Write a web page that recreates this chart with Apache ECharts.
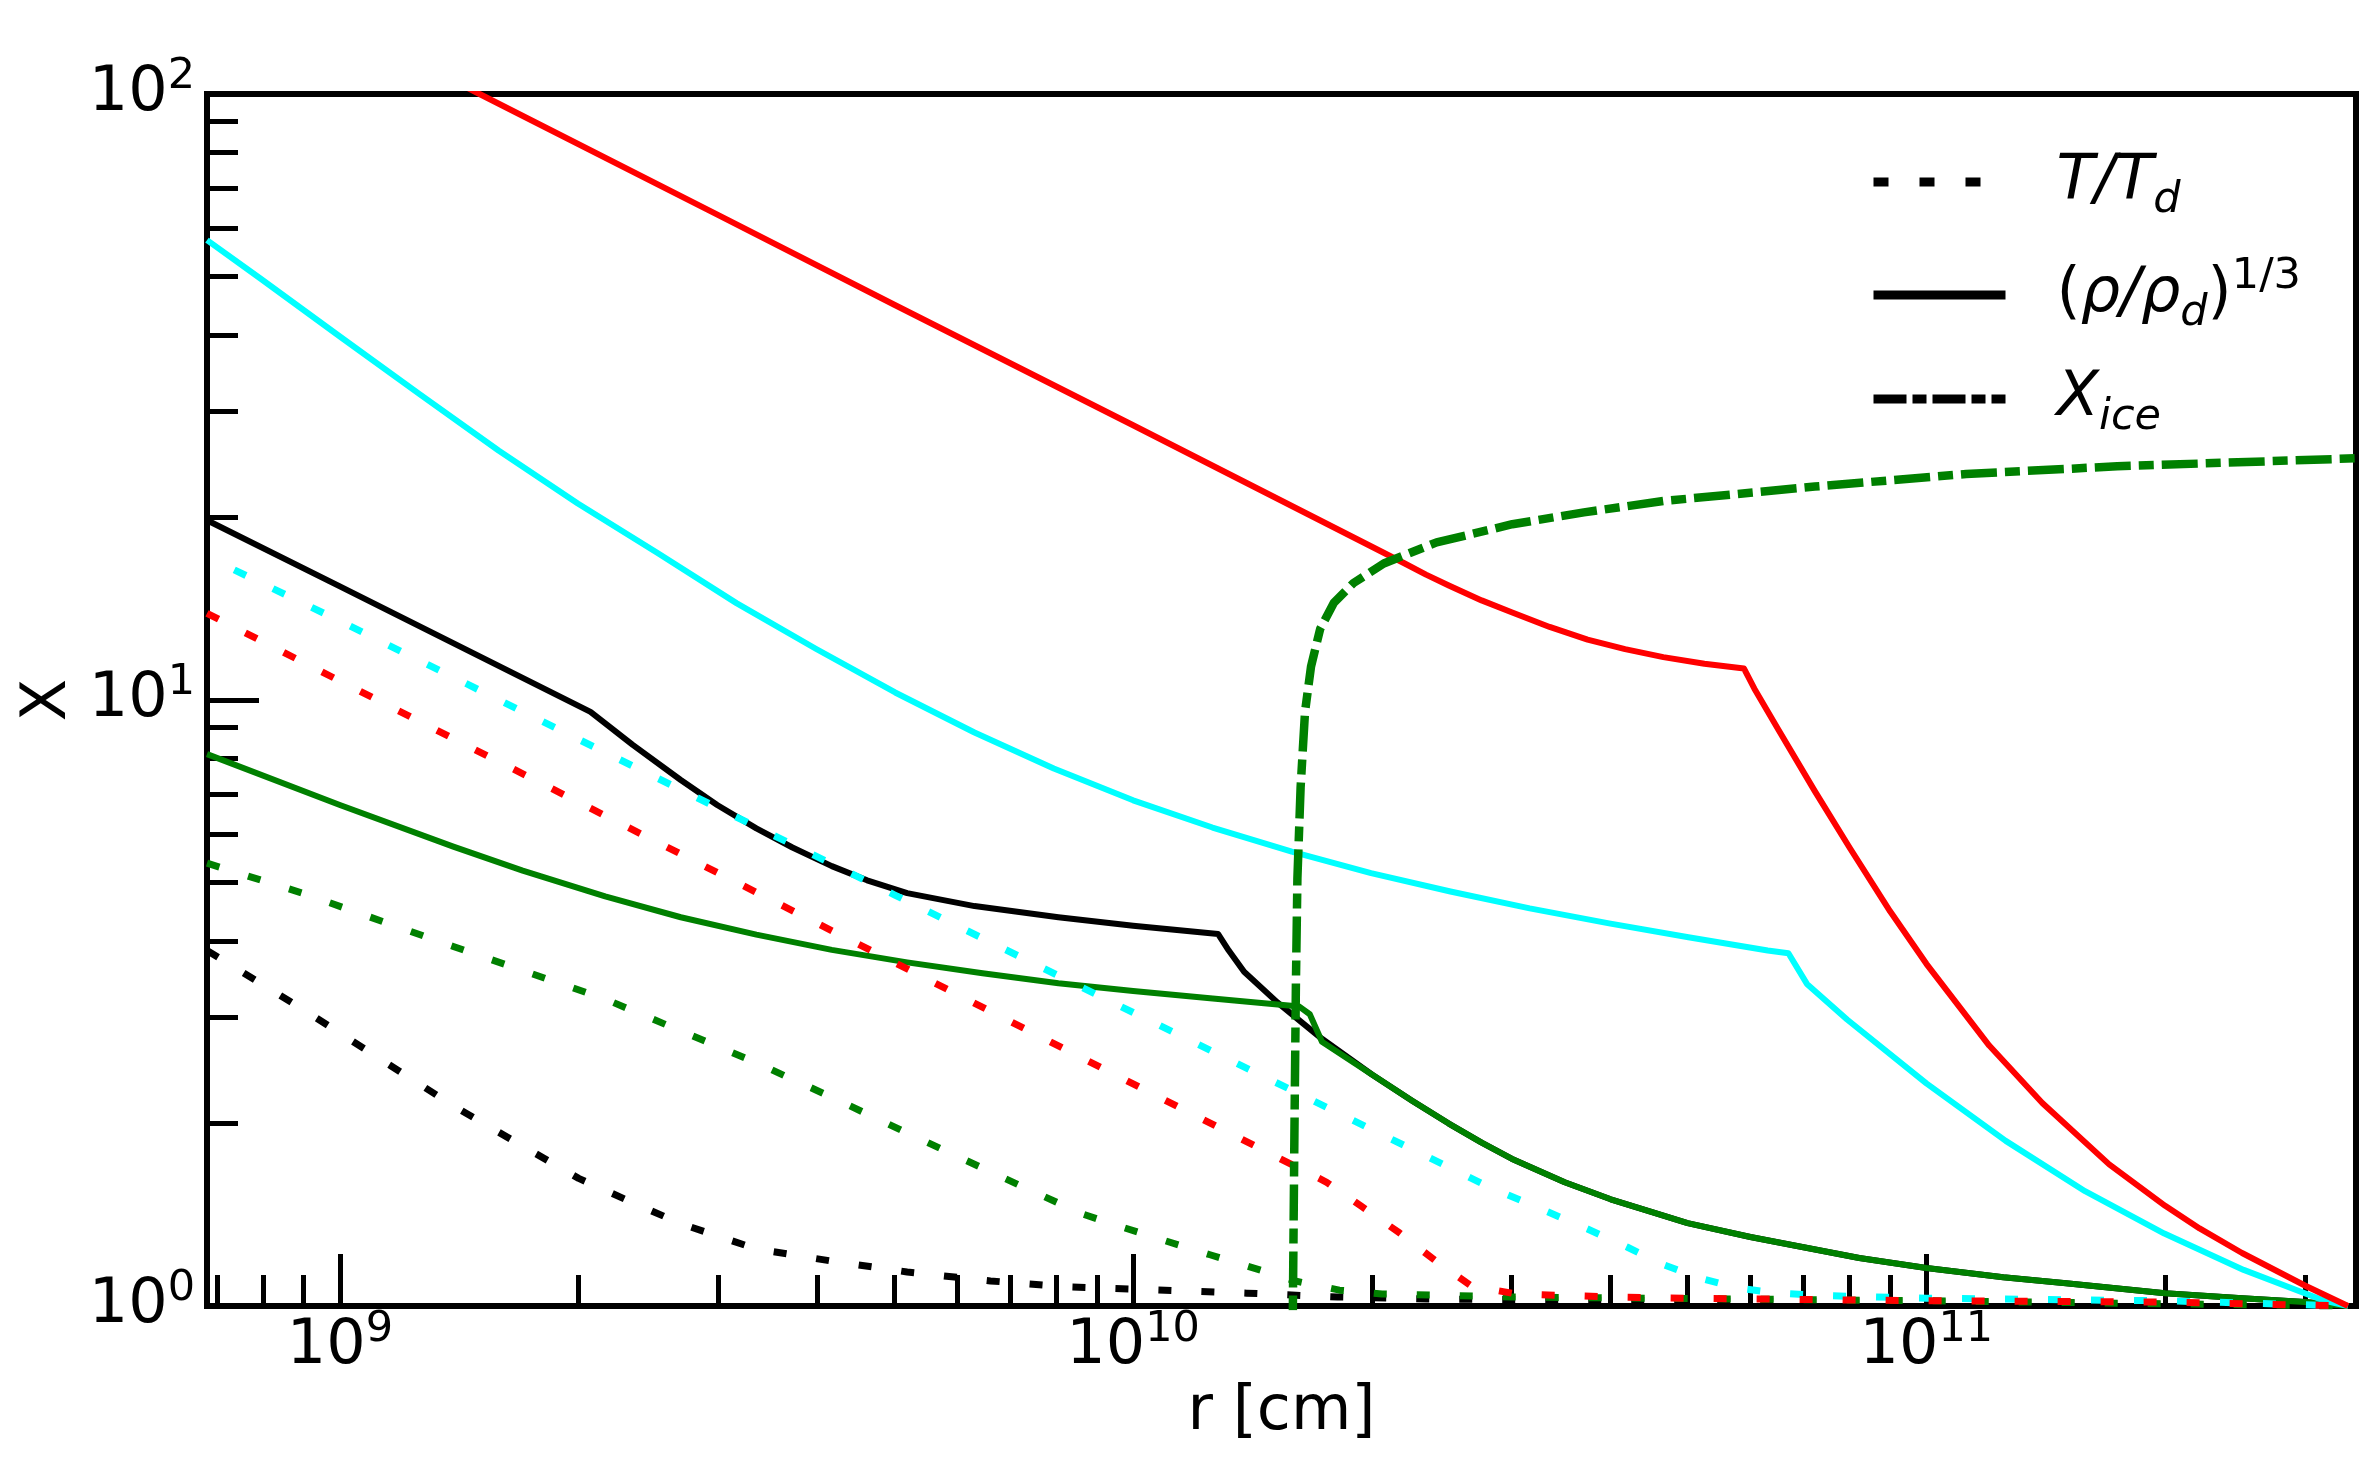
<!DOCTYPE html>
<html>
<head>
<meta charset="utf-8">
<title>X vs r</title>
<script src="https://cdn.jsdelivr.net/npm/echarts@6.0.0/dist/echarts.min.js"></script>
<style>
  html, body { margin: 0; padding: 0; background: #fff; }
  #chart { width: 2372px; height: 1463px; }
</style>
</head>
<body>
<div id="chart"></div>
<script>
/* profiles: [r in cm, X] */
var redSolid = [[6.8e8,169],[1.5e9,100],[3e9,63.1],[5e9,44.9],[1e10,28.4],[2e10,17.9],[2.2e10,16.8],[2.34e10,16.1],[2.5e10,15.45],[2.75e10,14.6],[3e10,13.96],[3.35e10,13.2],[3.74e10,12.58],[4.17e10,12.13],[4.66e10,11.77],[5.25e10,11.48],[5.89e10,11.27],[6.07e10,10.44],[6.5e10,8.96],[7.23e10,7.08],[8e10,5.71],[9e10,4.48],[1e11,3.67],[1.2e11,2.69],[1.4e11,2.163],[1.7e11,1.713],[2e11,1.463],[2.21e11,1.343],[2.5e11,1.223],[3e11,1.081],[3.4e11,1.0]];
var redDotted = [[6.8e8,13.9],[1e9,10.75],[2e9,6.78],[5e9,3.69],[1e10,2.325],[1.754e10,1.6],[1.945e10,1.457],[2.167e10,1.32],[2.4e10,1.19],[2.67e10,1.079],[3.04e10,1.047],[4e10,1.035],[5e10,1.03],[1e11,1.02],[2e11,1.015],[3.4e11,1.0]];

var cyanSolid = [[6.8e8,57.4],[7.94e8,49.6],[1e9,39.8],[1.259e9,32.0],[1.585e9,25.8],[1.995e9,21.1],[2.512e9,17.5],[3.162e9,14.45],[3.981e9,12.15],[5.012e9,10.29],[6.31e9,8.84],[7.943e9,7.71],[1e10,6.83],[1.259e10,6.16],[1.585e10,5.62],[1.995e10,5.18],[2.512e10,4.83],[3.162e10,4.53],[3.981e10,4.28],[5.012e10,4.06],[6.31e10,3.86],[6.7e10,3.82],[7.07e10,3.4],[7.943e10,2.97],[1e11,2.33],[1.259e11,1.873],[1.585e11,1.547],[1.995e11,1.317],[2.512e11,1.147],[3.162e11,1.022],[3.4e11,1.0]];
var cyanDotted = [[7.36e8,16.4],[1e9,13.5],[2e9,8.61],[5e9,4.77],[1e10,3.05],[2e10,1.955],[2.81e10,1.572],[3.18e10,1.468],[3.74e10,1.34],[4.2e10,1.25],[4.66e10,1.17],[5.2e10,1.11],[5.79e10,1.07],[6.5e10,1.05],[7.5e10,1.04],[1e11,1.03],[2e11,1.02],[3.4e11,1.0]];

// black and green solid run together past ~1.75e10
var sharedTail = [[2e10,2.41],[2.25e10,2.18],[2.5e10,2.0],[2.75e10,1.86],[3e10,1.75],[3.5e10,1.6],[4e10,1.5],[4.5e10,1.43],[5e10,1.37],[6e10,1.3],[7e10,1.25],[8.23e10,1.2],[1e11,1.155],[1.25e11,1.115],[1.5e11,1.09],[2e11,1.05],[2.5e11,1.03],[3e11,1.015],[3.4e11,1.0]];
var blackSolid = [[6.8e8,19.8],[1e9,15.4],[2.07e9,9.56],[2.34e9,8.43],[2.69e9,7.38],[2.99e9,6.71],[3.35e9,6.14],[3.72e9,5.71],[4.17e9,5.32],[4.62e9,5.04],[5.19e9,4.8],[6.31e9,4.57],[8.05e9,4.38],[1e10,4.24],[1.28e10,4.11],[1.32e10,3.86],[1.38e10,3.56],[1.52e10,3.17],[1.63e10,2.94],[1.73e10,2.76]];
var blackDotted = [[6.8e8,3.86],[8.97e8,3.09],[1.39e9,2.14],[1.585e9,1.936],[2e9,1.624],[2.29e9,1.5],[2.69e9,1.367],[3.35e9,1.242],[4.17e9,1.186],[5.19e9,1.138],[6.61e9,1.1],[8.3e9,1.075],[1.07e10,1.063],[1.39e10,1.05],[1.81e10,1.035],[2.35e10,1.027],[5e10,1.02],[1e11,1.015],[3.4e11,1.0]];

var greenSolid = [[6.8e8,8.14],[1e9,6.71],[1.39e9,5.73],[1.7e9,5.23],[2.16e9,4.74],[2.69e9,4.38],[3.35e9,4.1],[4.17e9,3.87],[5.19e9,3.69],[6.46e9,3.54],[8.05e9,3.41],[1e10,3.31],[1.25e10,3.22],[1.62e10,3.12],[1.67e10,3.03],[1.73e10,2.73]];
var greenDotted = [[6.8e8,5.38],[8.97e8,4.8],[1.39e9,3.92],[2.16e9,3.21],[3.35e9,2.52],[4.17e9,2.21],[5.19e9,1.93],[6.61e9,1.665],[8.61e9,1.42],[9.76e9,1.345],[1.1e10,1.28],[1.25e10,1.215],[1.42e10,1.155],[1.6e10,1.1],[1.82e10,1.062],[2.06e10,1.047],[3e10,1.035],[1e11,1.02],[3.4e11,1.0]];
var xIce = [[1.588e10,0.5],[1.59e10,1.0],[1.597e10,1.91],[1.604e10,3.4],[1.611e10,5.08],[1.626e10,7.17],[1.647e10,9.56],[1.676e10,11.36],[1.721e10,13.1],[1.791e10,14.47],[1.896e10,15.6],[2.07e10,16.8],[2.413e10,18.2],[3.006e10,19.5],[3.7e10,20.4],[4.664e10,21.3],[7.233e10,22.5],[1.122e11,23.6],[1.74e11,24.3],[3.48e11,25.05]];

/* axes */
var xRange = [6.8e8, 3.48e11];
var yRange = [1, 100];
var xMajorTicks = [1e9, 1e10, 1e11];
var xMinorTicks = [7e8, 8e8, 9e8, 2e9, 3e9, 4e9, 5e9, 6e9, 7e9, 8e9, 9e9, 2e10, 3e10, 4e10, 5e10, 6e10, 7e10, 8e10, 9e10, 2e11, 3e11];
var yMajorTicks = [1, 10, 100];
var yMinorTicks = [2, 3, 4, 5, 6, 7, 8, 9, 20, 30, 40, 50, 60, 70, 80, 90];

var FONT = 'DejaVu Sans';
var legendNames = ['T/Td', 'rho/rhod', 'Xice'];
var legendText = {
    'T/Td': '{i|T/T}{sub|d}',
    'rho/rhod': '{n|(}{i|ρ/ρ}{sub|d}{n|)}{sup|1/3}',
    'Xice': '{i|X}{sub|ice}'
};

var DOTTED = [13, 30];
var DASHDOT = [36, 8, 15, 8];
// the legend keys are drawn a bit heavier, so their dashes run a bit longer
var DOTTED_KEY = [15, 31];
var DASHDOT_KEY = [33, 6, 14, 6];

function expLabel(v) {
    var e = Math.round(Math.log10(v));
    return '{b|10}{s|' + e + '}';
}
var expRich = {
    b: { fontFamily: FONT, fontSize: 62, lineHeight: 78, color: '#000' },
    s: { fontFamily: FONT, fontSize: 43, lineHeight: 43, verticalAlign: 'top', color: '#000' }
};

function curve(data, color, kind) {
    var style = { color: color, width: 6, type: 'solid', cap: 'butt', join: 'round' };
    if (kind === 'dotted') { style.width = 7; style.type = DOTTED; }
    if (kind === 'dashdot') { style.width = 8.5; style.type = DASHDOT; }
    return {
        type: 'line', data: data, showSymbol: false, symbol: 'none',
        lineStyle: style, itemStyle: { color: color }, silent: true,
        xAxisIndex: 0, yAxisIndex: 0, clip: true, animation: false
    };
}
// empty black series, only for the legend keys
function key(name, type) {
    return {
        type: 'line', name: name, data: [], symbol: 'none',
        lineStyle: { color: '#000', width: 9, type: type, cap: 'butt' },
        itemStyle: { color: '#000' }
    };
}

function majorAxis(dim, range, ticks) {
    return {
        type: 'log', logBase: 10, min: range[0], max: range[1],
        axisLine: { show: false },
        axisTick: { show: true, inside: true, length: 52, customValues: ticks,
                    lineStyle: { color: '#000', width: 5 } },
        axisLabel: { show: true, customValues: ticks, formatter: expLabel, rich: expRich,
                     margin: dim === 'x' ? 2 : 12 },
        splitLine: { show: false },
        minorTick: { show: false }
    };
}
function minorAxis(range, ticks, pos) {
    return {
        type: 'log', logBase: 10, min: range[0], max: range[1], position: pos,
        axisLine: { show: false },
        axisTick: { show: true, inside: true, length: 31, customValues: ticks,
                    lineStyle: { color: '#000', width: 5 } },
        axisLabel: { show: false },
        splitLine: { show: false }
    };
}

var xMain = majorAxis('x', xRange, xMajorTicks);
xMain.position = 'bottom';
xMain.name = 'r [cm]';
xMain.nameLocation = 'middle';
xMain.nameGap = 76;
xMain.nameMoveOverlap = false;
xMain.nameTextStyle = { fontFamily: FONT, fontSize: 62, color: '#000' };

var yMain = majorAxis('y', yRange, yMajorTicks);
yMain.position = 'left';
yMain.name = 'X';
yMain.nameLocation = 'middle';
yMain.nameRotate = 90;
yMain.nameGap = 127;
yMain.nameMoveOverlap = false;
yMain.nameTextStyle = { fontFamily: FONT, fontSize: 62, color: '#000' };

var chart = echarts.init(document.getElementById('chart'), null, { renderer: 'canvas' });
chart.setOption({
    animation: false,
    backgroundColor: '#fff',
    grid: { left: 207, right: 16, top: 94, bottom: 157, show: true,
            borderColor: '#000', borderWidth: 6, backgroundColor: 'transparent' },
    xAxis: [xMain, minorAxis(xRange, xMinorTicks, 'bottom')],
    yAxis: [yMain, minorAxis(yRange, yMinorTicks, 'left')],
    legend: {
        data: legendNames, orient: 'vertical', left: 1869, top: 151,
        padding: 0, itemWidth: 132, itemHeight: 40, itemGap: 33,
        selectedMode: false,
        lineStyle: { width: 9 },
        itemStyle: { opacity: 0 },   // hide the marker dot on the key line
        formatter: function (name) { return legendText[name]; },
        textStyle: {
            padding: [0, 0, 0, 46], color: '#000',
            rich: {
                i: { fontFamily: FONT, fontStyle: 'italic', fontSize: 62, lineHeight: 80, color: '#000' },
                n: { fontFamily: FONT, fontSize: 62, lineHeight: 80, color: '#000' },
                sub: { fontFamily: FONT, fontStyle: 'italic', fontSize: 43, lineHeight: 44, verticalAlign: 'bottom', color: '#000' },
                sup: { fontFamily: FONT, fontSize: 43, lineHeight: 44, verticalAlign: 'top', color: '#000' }
            }
        }
    },
    series: [
        curve(blackSolid.concat(sharedTail), '#000000', 'solid'),
        curve(blackDotted, '#000000', 'dotted'),
        curve(greenSolid.concat(sharedTail), '#008000', 'solid'),
        curve(greenDotted, '#008000', 'dotted'),
        curve(cyanSolid, '#00ffff', 'solid'),
        curve(cyanDotted, '#00ffff', 'dotted'),
        curve(redSolid, '#ff0000', 'solid'),
        curve(redDotted, '#ff0000', 'dotted'),
        curve(xIce, '#008000', 'dashdot'),
        key('T/Td', DOTTED_KEY),
        key('rho/rhod', 'solid'),
        key('Xice', DASHDOT_KEY)
    ]
});
</script>
</body>
</html>
